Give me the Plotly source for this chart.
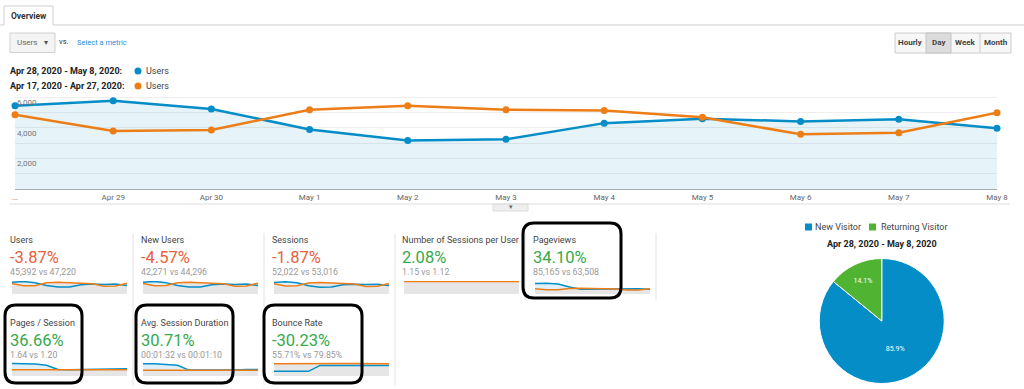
import plotly.graph_objects as go

W, H = 1024, 389

# ---------------- data ----------------
date_labels = ["...", "Apr 29", "Apr 30", "May 1", "May 2", "May 3", "May 4", "May 5", "May 6", "May 7", "May 8"]
users_current = [5440, 5770, 5230, 3900, 3180, 3250, 4310, 4600, 4420, 4570, 3970]
users_previous = [4860, 3790, 3860, 5180, 5440, 5180, 5140, 4690, 3580, 3680, 4990]
y_tick_vals = [1000, 2000, 3000, 4000, 5000, 6000]
y_tick_text = ["", "2,000", "", "4,000", "", "6,000"]

range_current = "Apr 28, 2020 - May 8, 2020:"
range_previous = "Apr 17, 2020 - Apr 27, 2020:"
metric_name = "Users"

card_titles = ["Users", "New Users", "Sessions", "Number of Sessions per User", "Pageviews",
               "Pages / Session", "Avg. Session Duration", "Bounce Rate"]
card_changes = ["-3.87%", "-4.57%", "-1.87%", "2.08%", "34.10%", "36.66%", "30.71%", "-30.23%"]
card_good = [False, False, False, True, True, True, True, True]
card_compare = ["45,392 vs 47,220", "42,271 vs 44,296", "52,022 vs 53,016", "1.15 vs 1.12",
                "85,165 vs 63,508", "1.64 vs 1.20", "00:01:32 vs 00:01:10", "55.71% vs 79.85%"]

spark_current = [
    users_current,
    [5100, 5400, 4900, 3650, 2980, 3050, 4030, 4300, 4130, 4270, 3700],
    [6200, 6600, 6000, 4500, 3650, 3750, 4950, 5300, 5080, 5250, 4560],
    [1.14, 1.15, 1.15, 1.14, 1.16, 1.15, 1.15, 1.16, 1.15, 1.14, 1.15],
    [12000, 12500, 11500, 8000, 5400, 5500, 6200, 6300, 6100, 6200, 5600],
    [2.25, 2.25, 2.15, 1.92, 1.15, 1.13, 1.15, 1.14, 1.16, 1.3, 1.3],
    [150, 150, 140, 130, 72, 70, 71, 70, 72, 80, 80],
    [30, 30, 30, 30, 68, 68, 68, 68, 68, 68, 68],
]
spark_previous = [
    users_previous,
    [4550, 3550, 3620, 4850, 5100, 4850, 4810, 4390, 3350, 3450, 4680],
    [5550, 4350, 4420, 5930, 6230, 5930, 5890, 5370, 4100, 4210, 5710],
    [1.12, 1.12, 1.12, 1.12, 1.12, 1.12, 1.12, 1.12, 1.12, 1.12, 1.12],
    [6000, 4800, 4900, 6400, 6700, 6400, 6300, 5800, 4500, 4600, 6100],
    [1.1, 1.1, 1.1, 1.1, 1.1, 1.1, 1.1, 1.1, 1.1, 1.1, 1.1],
    [70, 70, 70, 70, 70, 70, 70, 70, 70, 70, 70],
    [79, 80, 80, 81, 80, 79, 80, 80, 81, 80, 79],
]
spark_ymax = [6000, 5600, 7000, 1.17, 15000, 2.5, 170, 90]

pie_labels = ["New Visitor", "Returning Visitor"]
pie_values = [85.9, 14.1]
pie_title = "Apr 28, 2020 - May 8, 2020"
buttons = ["Hourly", "Day", "Week", "Month"]

# ---------------- style ----------------
BLUE = "#058dc7"
ORANGE = "#ed7e17"
GREEN_PIE = "#50b432"
RED = "#e8603c"
GREEN = "#36a94d"
FONT = "Roboto"


def X(px):
    return px / W


def Y(py):
    return 1 - py / H


fig = go.Figure()
annotations = []
shapes = []


def txt(x, y, s, size=9, color="#444", bold=False, anchor="left", yanchor="middle"):
    annotations.append(dict(
        x=X(x), y=Y(y), xref="paper", yref="paper", text=("<b>%s</b>" % s) if bold else s,
        showarrow=False, xanchor=anchor, yanchor=yanchor, borderpad=0, borderwidth=0,
        font=dict(family=FONT, size=size, color=color)))


def line(x0, y0, x1, y1, color="#ddd", width=1):
    shapes.append(dict(type="line", xref="paper", yref="paper", x0=X(x0), y0=Y(y0), x1=X(x1), y1=Y(y1),
                       line=dict(color=color, width=width)))


def rect(x0, y0, x1, y1, fill, color="#ccc", width=1):
    shapes.append(dict(type="rect", xref="paper", yref="paper", x0=X(x0), y0=Y(y0), x1=X(x1), y1=Y(y1),
                       fillcolor=fill, line=dict(color=color, width=width), layer="below"))


def rrect(x0, y0, x1, y1, r, color="#000", width=3):
    p = (f"M {X(x0 + r)} {Y(y0)} L {X(x1 - r)} {Y(y0)} Q {X(x1)} {Y(y0)} {X(x1)} {Y(y0 + r)} "
         f"L {X(x1)} {Y(y1 - r)} Q {X(x1)} {Y(y1)} {X(x1 - r)} {Y(y1)} "
         f"L {X(x0 + r)} {Y(y1)} Q {X(x0)} {Y(y1)} {X(x0)} {Y(y1 - r)} "
         f"L {X(x0)} {Y(y0 + r)} Q {X(x0)} {Y(y0)} {X(x0 + r)} {Y(y0)} Z")
    shapes.append(dict(type="path", xref="paper", yref="paper", path=p,
                       line=dict(color=color, width=width), fillcolor="rgba(0,0,0,0)", layer="above"))


# ---------------- main chart ----------------
xs = list(range(len(date_labels)))
fig.add_trace(go.Scatter(x=xs, y=users_current, mode="lines+markers", fill="tozeroy",
                         fillcolor="rgba(5,141,199,0.10)", line=dict(color=BLUE, width=2.5),
                         marker=dict(size=7, color=BLUE), cliponaxis=False, hoverinfo="skip"))
fig.add_trace(go.Scatter(x=xs, y=users_previous, mode="lines+markers",
                         line=dict(color=ORANGE, width=2.5),
                         marker=dict(size=7, color=ORANGE), cliponaxis=False, hoverinfo="skip"))

ymax_main = (189 - 92) / ((189 - 97.3) / 6000)
layout_axes = dict(
    xaxis=dict(domain=[X(15), X(997)], range=[0, len(date_labels) - 1], tickvals=xs, ticktext=date_labels,
               showgrid=False, zeroline=False, showline=True, linecolor="#aaa", linewidth=1, ticks="",
               tickfont=dict(family=FONT, size=8, color="#666"), fixedrange=True, automargin=False),
    yaxis=dict(domain=[Y(189), Y(92)], range=[0, ymax_main], tickvals=y_tick_vals, ticktext=["" for _ in y_tick_vals],
               showgrid=True, gridcolor="#eeeeee", gridwidth=1, zeroline=False, showline=False, fixedrange=True,
               automargin=False),
)
for v, t in zip(y_tick_vals, y_tick_text):
    if t:
        annotations.append(dict(x=X(17), y=v, xref="paper", yref="y", text=t, showarrow=False,
                                xanchor="left", yanchor="top", yshift=-1, borderpad=0, borderwidth=0,
                                font=dict(family=FONT, size=8, color="#777")))

# ---------------- sparklines / scorecards ----------------
card_x = [10, 141, 272, 402, 533, 10, 141, 272]
card_row = [0, 0, 0, 0, 0, 1, 1, 1]
row_title_y = [240, 323]
row_val_y = [257.5, 340]
row_sub_y = [272, 355]
row_spark = [(281, 294), (362, 376)]

for i in range(8):
    ax = i + 2
    r = card_row[i]
    sx0 = card_x[i] + 2
    sx1 = sx0 + 115
    sy0, sy1 = row_spark[r]
    xa, ya = "x%d" % ax, "y%d" % ax
    fig.add_trace(go.Scatter(x=xs, y=spark_current[i], mode="lines", fill="tozeroy",
                             fillcolor="rgba(5,141,199,0.13)", line=dict(width=0, color="rgba(0,0,0,0)"),
                             xaxis=xa, yaxis=ya, hoverinfo="skip"))
    fig.add_trace(go.Scatter(x=xs, y=spark_previous[i], mode="lines", fill="tozeroy",
                             fillcolor="#e6e6e6", line=dict(width=0, color="rgba(0,0,0,0)"),
                             xaxis=xa, yaxis=ya, hoverinfo="skip"))
    fig.add_trace(go.Scatter(x=xs, y=spark_current[i], mode="lines", line=dict(width=1.5, color=BLUE),
                             xaxis=xa, yaxis=ya, hoverinfo="skip"))
    fig.add_trace(go.Scatter(x=xs, y=spark_previous[i], mode="lines", line=dict(width=1.5, color=ORANGE),
                             xaxis=xa, yaxis=ya, hoverinfo="skip"))
    layout_axes["xaxis%d" % ax] = dict(domain=[X(sx0), X(sx1)], range=[0, 10], visible=False, fixedrange=True)
    layout_axes["yaxis%d" % ax] = dict(domain=[Y(sy1), Y(sy0)], range=[0, spark_ymax[i]], visible=False,
                                       fixedrange=True)
    txt(card_x[i], row_title_y[r], card_titles[i], size=9, color="#444")
    txt(card_x[i] - 0.5, row_val_y[r], card_changes[i], size=16.5, color=GREEN if card_good[i] else RED)
    txt(card_x[i], row_sub_y[r], card_compare[i], size=8.8, color="#999")

# separators
for sx in [133, 264, 395]:
    line(sx, 233, sx, 385, color="#e2e2e2")
for sx in [525, 656]:
    line(sx, 233, sx, 300, color="#e2e2e2")

# highlight boxes
rrect(523, 223, 621, 298, 11)
rrect(5, 305, 82, 383, 11)
rrect(136, 305, 233, 383, 11)
rrect(264, 305, 362, 383, 11)

# ---------------- pie ----------------
fig.add_trace(go.Pie(labels=pie_labels, values=pie_values, sort=False, direction="clockwise", rotation=0,
                     marker=dict(colors=[BLUE, GREEN_PIE], line=dict(color="white", width=1)),
                     textinfo="percent", texttemplate="%{percent:.1%}", textposition="inside",
                     insidetextfont=dict(family=FONT, size=7, color="white"), showlegend=False,
                     hoverinfo="skip", domain=dict(x=[X(819), X(944.5)], y=[Y(383.5), Y(258.5)])))
rect(805, 223.5, 812, 230.5, BLUE, color=BLUE, width=0)
txt(815, 227, pie_labels[0], size=9, color="#444")
rect(869, 223.5, 876, 230.5, GREEN_PIE, color=GREEN_PIE, width=0)
txt(881, 227, pie_labels[1], size=9, color="#444")
txt(882, 244, pie_title, size=9, color="#222", bold=True, anchor="center")

# ---------------- header ----------------
line(0, 25, 4, 25, color="#cfcfcf")
line(53, 25, 1024, 25, color="#cfcfcf")
shapes.append(dict(type="path", xref="paper", yref="paper",
                   path=f"M {X(4)} {Y(25)} L {X(4)} {Y(6)} L {X(53)} {Y(6)} L {X(53)} {Y(25)}",
                   line=dict(color="#cfcfcf", width=1)))
txt(28.5, 16, "Overview", size=8.5, color="#333", bold=True, anchor="center")

rect(10, 33, 55, 52.5, "#f4f4f4", color="#d0d0d0")
txt(17, 43, metric_name, size=8, color="#666")
txt(46, 42.5, "▾", size=8, color="#555", anchor="center")
txt(59, 42, "vs.", size=7.5, color="#333")
txt(77, 43, "Select a metric", size=7.5, color="#2a8fd6")

# time buttons
rect(895, 33, 1011, 53, "#f7f7f7", color="#cccccc")
rect(926, 33, 951, 53, "#dcdcdc", color="#c4c4c4")
for bx in [980]:
    line(bx, 33, bx, 53, color="#cccccc")
for label, cx in zip(buttons, [910.5, 938.5, 965.5, 995.5]):
    txt(cx, 43, label, size=8, color="#444", bold=True, anchor="center")

# legend rows
txt(10, 71, range_current, size=9, color="#222", bold=True)
txt(10, 86, range_previous, size=9, color="#222", bold=True)
shapes.append(dict(type="circle", xref="paper", yref="paper", x0=X(134.5), x1=X(141.5), y0=Y(67.5), y1=Y(74.5),
                   fillcolor=BLUE, line=dict(width=0)))
shapes.append(dict(type="circle", xref="paper", yref="paper", x0=X(134.5), x1=X(141.5), y0=Y(82.5), y1=Y(89.5),
                   fillcolor=ORANGE, line=dict(width=0)))
txt(146, 71, metric_name, size=9, color="#444")
txt(146, 86, metric_name, size=9, color="#444")

# below chart separator and handle
line(10, 204, 1010, 204, color="#dddddd")
rect(493, 204, 528, 211, "#eeeeee", color="#dddddd")
txt(510.5, 207, "▾", size=7, color="#666", anchor="center")

fig.update_layout(
    width=W, height=H, autosize=False, margin=dict(l=0, r=0, t=0, b=0, pad=0, autoexpand=False),
    paper_bgcolor="white", plot_bgcolor="white",
    showlegend=False, annotations=annotations, shapes=shapes, font=dict(family=FONT), **layout_axes)

fig.write_html("out.html", config={"displayModeBar": False, "staticPlot": True, "responsive": False},
               post_script="document.body.style.margin='0';document.documentElement.style.overflow='hidden';"
                           "document.body.style.overflow='hidden';")
